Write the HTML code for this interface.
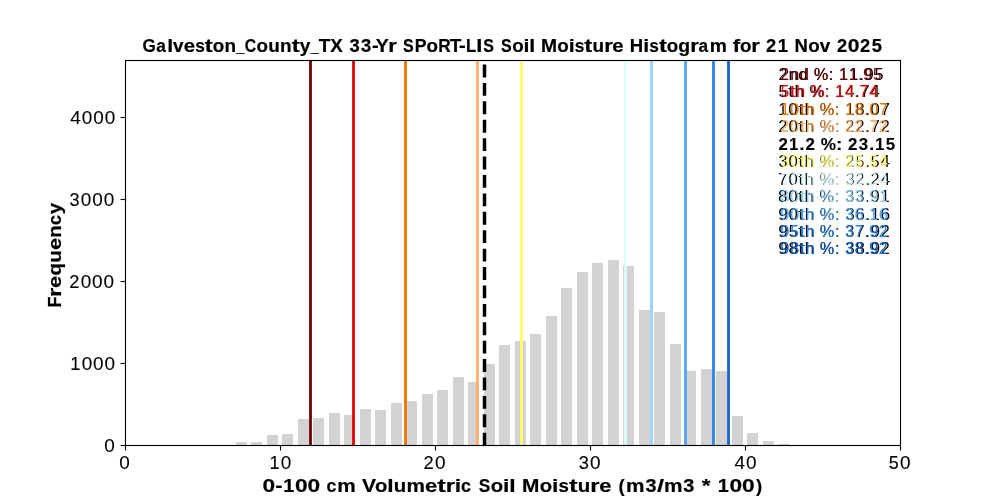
<!DOCTYPE html><html><head><meta charset="utf-8"><title>Soil Moisture Histogram</title><style>html,body{margin:0;padding:0;background:#fff;width:1000px;height:500px;overflow:hidden}svg{display:block;will-change:transform}text{font-family:"Liberation Sans",sans-serif;font-kerning:none}</style></head><body><svg width="1000" height="500" viewBox="0 0 1000 500"><rect x="0" y="0" width="1000" height="500" fill="#fff"/><g fill="#d3d3d3"><rect x="236" y="442" width="11" height="4"/><rect x="251" y="442" width="11" height="4"/><rect x="267" y="435" width="11" height="11"/><rect x="282" y="434" width="11" height="12"/><rect x="298" y="419" width="11" height="27"/><rect x="313" y="418" width="11" height="28"/><rect x="329" y="413" width="11" height="33"/><rect x="344" y="415" width="11" height="31"/><rect x="360" y="409" width="11" height="37"/><rect x="375" y="410" width="11" height="36"/><rect x="391" y="403" width="11" height="43"/><rect x="406" y="401" width="11" height="45"/><rect x="422" y="394" width="11" height="52"/><rect x="437" y="390" width="11" height="56"/><rect x="453" y="377" width="11" height="69"/><rect x="468" y="382" width="11" height="64"/><rect x="484" y="364" width="11" height="82"/><rect x="499" y="345" width="11" height="101"/><rect x="515" y="341" width="11" height="105"/><rect x="530" y="334" width="11" height="112"/><rect x="546" y="316" width="11" height="130"/><rect x="561" y="288" width="11" height="158"/><rect x="577" y="272" width="11" height="174"/><rect x="592" y="263" width="11" height="183"/><rect x="608" y="260" width="11" height="186"/><rect x="623" y="266" width="11" height="180"/><rect x="639" y="310" width="11" height="136"/><rect x="654" y="312" width="11" height="134"/><rect x="670" y="344" width="11" height="102"/><rect x="685" y="371" width="11" height="75"/><rect x="701" y="369" width="11" height="77"/><rect x="716" y="371" width="11" height="75"/><rect x="732" y="416" width="11" height="30"/><rect x="747" y="433" width="11" height="13"/><rect x="763" y="441" width="11" height="5"/><rect x="778" y="444" width="11" height="2"/></g><line x1="310.5" y1="60.5" x2="310.5" y2="445.5" stroke="#6e0000" stroke-width="2.78"/><line x1="353.5" y1="60.5" x2="353.5" y2="445.5" stroke="#e80000" stroke-width="2.78"/><line x1="405.5" y1="60.5" x2="405.5" y2="445.5" stroke="#e87500" stroke-width="2.78"/><line x1="477.5" y1="60.5" x2="477.5" y2="445.5" stroke="#fdb064" stroke-width="2.78"/><line x1="521.5" y1="60.5" x2="521.5" y2="445.5" stroke="#fffe64" stroke-width="2.78"/><line x1="625.5" y1="60.5" x2="625.5" y2="445.5" stroke="#dcfdfd" stroke-width="2.78"/><line x1="651.5" y1="60.5" x2="651.5" y2="445.5" stroke="#96d2fa" stroke-width="2.78"/><line x1="685.5" y1="60.5" x2="685.5" y2="445.5" stroke="#50a5f5" stroke-width="2.78"/><line x1="713.5" y1="60.5" x2="713.5" y2="445.5" stroke="#2882f0" stroke-width="2.78"/><line x1="728.5" y1="60.5" x2="728.5" y2="445.5" stroke="#1464d2" stroke-width="2.78"/><line x1="484.5" y1="445.6" x2="484.5" y2="60.5" stroke="#000" stroke-width="3.47" stroke-dasharray="12.85 5.56"/><g stroke="#000" stroke-width="1.11" fill="none"><rect x="125.5" y="60.5" width="775" height="385"/><line x1="125.5" y1="445.5" x2="125.5" y2="450.5"/><line x1="280.5" y1="445.5" x2="280.5" y2="450.5"/><line x1="435.5" y1="445.5" x2="435.5" y2="450.5"/><line x1="590.5" y1="445.5" x2="590.5" y2="450.5"/><line x1="745.5" y1="445.5" x2="745.5" y2="450.5"/><line x1="900.5" y1="445.5" x2="900.5" y2="450.5"/><line x1="120.5" y1="445.5" x2="125.5" y2="445.5"/><line x1="120.5" y1="363.5" x2="125.5" y2="363.5"/><line x1="120.5" y1="281.5" x2="125.5" y2="281.5"/><line x1="120.5" y1="199.5" x2="125.5" y2="199.5"/><line x1="120.5" y1="117.5" x2="125.5" y2="117.5"/></g><g font-size="17.66" font-weight="bold" fill="#000" stroke="#000" stroke-width="0.2"><text transform="translate(142.48 51.65) scale(0.974 1)">G</text><text transform="translate(156.20 51.65) scale(0.978 1)">a</text><text transform="translate(167.14 51.65) scale(1.208 1)">l</text><text transform="translate(173.10 51.65) scale(1.070 1)">v</text><text transform="translate(183.67 51.65) scale(1.147 1)">e</text><text transform="translate(195.30 51.65) scale(0.974 1)">s</text><text transform="translate(204.87 51.65) scale(1.350 1)">t</text><text transform="translate(212.84 51.65) scale(1.065 1)">o</text><text transform="translate(224.44 51.65) scale(1.075 1)">n</text><text transform="translate(236.27 51.65) scale(0.821 1)">_</text><text transform="translate(244.63 51.65) scale(0.894 1)">C</text><text transform="translate(256.61 51.65) scale(1.065 1)">o</text><text transform="translate(268.19 51.65) scale(1.075 1)">u</text><text transform="translate(280.05 51.65) scale(1.075 1)">n</text><text transform="translate(291.68 51.65) scale(1.350 1)">t</text><text transform="translate(299.75 51.65) scale(1.080 1)">y</text><text transform="translate(310.66 51.65) scale(0.821 1)">_</text><text transform="translate(318.71 51.65) scale(1.075 1)">T</text><text transform="translate(330.34 51.65) scale(1.063 1)">X</text><text transform="translate(349.48 51.65) scale(1.043 1)">3</text><text transform="translate(361.05 51.65) scale(1.043 1)">3</text><text transform="translate(372.02 51.65) scale(1.140 1)">-</text><text transform="translate(375.83 51.65) scale(1.106 1)">Y</text><text transform="translate(388.30 51.65) scale(1.245 1)">r</text><text transform="translate(403.07 51.65) scale(0.907 1)">S</text><text transform="translate(414.66 51.65) scale(1.000 1)">P</text><text transform="translate(426.47 51.65) scale(1.065 1)">o</text><text transform="translate(438.29 51.65) scale(0.978 1)">R</text><text transform="translate(449.85 51.65) scale(1.075 1)">T</text><text transform="translate(458.92 51.65) scale(1.140 1)">-</text><text transform="translate(466.11 51.65) scale(0.953 1)">L</text><text transform="translate(476.37 51.65) scale(1.235 1)">I</text><text transform="translate(483.22 51.65) scale(0.907 1)">S</text><text transform="translate(500.99 51.65) scale(0.907 1)">S</text><text transform="translate(512.20 51.65) scale(1.065 1)">o</text><text transform="translate(523.57 51.65) scale(1.208 1)">i</text><text transform="translate(529.26 51.65) scale(1.208 1)">l</text><text transform="translate(541.06 51.65) scale(1.095 1)">M</text><text transform="translate(557.35 51.65) scale(1.065 1)">o</text><text transform="translate(568.72 51.65) scale(1.208 1)">i</text><text transform="translate(574.76 51.65) scale(0.974 1)">s</text><text transform="translate(584.34 51.65) scale(1.350 1)">t</text><text transform="translate(592.46 51.65) scale(1.075 1)">u</text><text transform="translate(604.13 51.65) scale(1.245 1)">r</text><text transform="translate(612.29 51.65) scale(1.147 1)">e</text><text transform="translate(629.72 51.65) scale(1.048 1)">H</text><text transform="translate(643.27 51.65) scale(1.208 1)">i</text><text transform="translate(649.31 51.65) scale(0.974 1)">s</text><text transform="translate(658.89 51.65) scale(1.350 1)">t</text><text transform="translate(666.86 51.65) scale(1.065 1)">o</text><text transform="translate(678.26 51.65) scale(1.101 1)">g</text><text transform="translate(690.17 51.65) scale(1.245 1)">r</text><text transform="translate(698.61 51.65) scale(0.978 1)">a</text><text transform="translate(709.75 51.65) scale(1.091 1)">m</text><text transform="translate(732.68 51.65) scale(1.263 1)">f</text><text transform="translate(739.95 51.65) scale(1.065 1)">o</text><text transform="translate(751.35 51.65) scale(1.245 1)">r</text><text transform="translate(766.06 51.65) scale(1.037 1)">2</text><text transform="translate(777.67 51.65) scale(1.042 1)">1</text><text transform="translate(794.59 51.65) scale(1.048 1)">N</text><text transform="translate(808.19 51.65) scale(1.065 1)">o</text><text transform="translate(819.83 51.65) scale(1.070 1)">v</text><text transform="translate(836.95 51.65) scale(1.037 1)">2</text><text transform="translate(847.80 51.65) scale(1.190 1)">0</text><text transform="translate(860.08 51.65) scale(1.037 1)">2</text><text transform="translate(871.70 51.65) scale(1.039 1)">5</text></g><g font-size="19.13" font-weight="bold" fill="#000" stroke="#000" stroke-width="0.2"><text transform="translate(262.50 491.70) scale(1.187 1)">0</text><text transform="translate(275.18 491.70) scale(1.139 1)">-</text><text transform="translate(283.30 491.70) scale(1.040 1)">1</text><text transform="translate(295.01 491.70) scale(1.187 1)">0</text><text transform="translate(307.54 491.70) scale(1.187 1)">0</text><text transform="translate(326.44 491.70) scale(0.931 1)">c</text><text transform="translate(337.16 491.70) scale(1.088 1)">m</text><text transform="translate(361.99 491.70) scale(1.101 1)">V</text><text transform="translate(374.97 491.70) scale(1.061 1)">o</text><text transform="translate(387.25 491.70) scale(1.204 1)">l</text><text transform="translate(393.67 491.70) scale(1.071 1)">u</text><text transform="translate(406.46 491.70) scale(1.088 1)">m</text><text transform="translate(425.02 491.70) scale(1.144 1)">e</text><text transform="translate(437.22 491.70) scale(1.350 1)">t</text><text transform="translate(445.85 491.70) scale(1.241 1)">r</text><text transform="translate(454.68 491.70) scale(1.204 1)">i</text><text transform="translate(461.03 491.70) scale(0.931 1)">c</text><text transform="translate(478.67 491.70) scale(0.903 1)">S</text><text transform="translate(490.84 491.70) scale(1.061 1)">o</text><text transform="translate(503.12 491.70) scale(1.204 1)">i</text><text transform="translate(509.29 491.70) scale(1.204 1)">l</text><text transform="translate(522.08 491.70) scale(1.092 1)">M</text><text transform="translate(539.72 491.70) scale(1.061 1)">o</text><text transform="translate(552.00 491.70) scale(1.204 1)">i</text><text transform="translate(558.54 491.70) scale(0.973 1)">s</text><text transform="translate(568.90 491.70) scale(1.350 1)">t</text><text transform="translate(577.74 491.70) scale(1.071 1)">u</text><text transform="translate(590.35 491.70) scale(1.241 1)">r</text><text transform="translate(599.21 491.70) scale(1.144 1)">e</text><text transform="translate(618.38 491.70) scale(0.971 1)">(</text><text transform="translate(626.11 491.70) scale(1.088 1)">m</text><text transform="translate(645.49 491.70) scale(1.039 1)">3</text><text transform="translate(657.01 491.70) scale(1.329 1)">/</text><text transform="translate(663.96 491.70) scale(1.088 1)">m</text><text transform="translate(683.34 491.70) scale(1.039 1)">3</text><text transform="translate(701.69 491.70) scale(1.180 1)">*</text><text transform="translate(717.84 491.70) scale(1.040 1)">1</text><text transform="translate(729.56 491.70) scale(1.187 1)">0</text><text transform="translate(742.08 491.70) scale(1.187 1)">0</text><text transform="translate(756.06 491.70) scale(0.971 1)">)</text></g><g font-size="19.13" font-weight="bold" fill="#000" stroke="#000" stroke-width="0.2"><text transform="translate(60.56 307.55) rotate(-90) scale(0.940 1)">F</text><text transform="translate(60.56 296.88) rotate(-90) scale(1.241 1)">r</text><text transform="translate(60.56 288.02) rotate(-90) scale(1.144 1)">e</text><text transform="translate(60.56 275.80) rotate(-90) scale(1.099 1)">q</text><text transform="translate(60.56 262.71) rotate(-90) scale(1.071 1)">u</text><text transform="translate(60.56 250.12) rotate(-90) scale(1.144 1)">e</text><text transform="translate(60.56 237.67) rotate(-90) scale(1.071 1)">n</text><text transform="translate(60.56 224.94) rotate(-90) scale(0.931 1)">c</text><text transform="translate(60.56 214.28) rotate(-90) scale(1.078 1)">y</text></g><g font-size="19.13" fill="#000" stroke="#000" stroke-width="0.1"><text transform="translate(119.23 468.67) scale(0.991 1)">0</text></g><g font-size="19.13" fill="#000" stroke="#000" stroke-width="0.1"><text transform="translate(269.55 468.73) scale(0.949 1)">1</text><text transform="translate(280.87 468.73) scale(0.991 1)">0</text></g><g font-size="19.13" fill="#000" stroke="#000" stroke-width="0.1"><text transform="translate(423.38 468.73) scale(0.957 1)">2</text><text transform="translate(434.89 468.73) scale(0.991 1)">0</text></g><g font-size="19.13" fill="#000" stroke="#000" stroke-width="0.1"><text transform="translate(578.65 468.55) scale(0.953 1)">3</text><text transform="translate(589.89 468.55) scale(0.991 1)">0</text></g><g font-size="19.13" fill="#000" stroke="#000" stroke-width="0.1"><text transform="translate(734.51 468.70) scale(0.994 1)">4</text><text transform="translate(745.98 468.70) scale(0.991 1)">0</text></g><g font-size="19.13" fill="#000" stroke="#000" stroke-width="0.1"><text transform="translate(888.80 468.52) scale(0.936 1)">5</text><text transform="translate(900.05 468.52) scale(0.991 1)">0</text></g><g font-size="19.13" fill="#000" stroke="#000" stroke-width="0.1"><text transform="translate(104.23 451.67) scale(0.991 1)">0</text></g><g font-size="19.13" fill="#000" stroke="#000" stroke-width="0.1"><text transform="translate(70.32 369.61) scale(0.949 1)">1</text><text transform="translate(81.64 369.61) scale(0.991 1)">0</text><text transform="translate(93.09 369.61) scale(0.991 1)">0</text><text transform="translate(104.55 369.61) scale(0.991 1)">0</text></g><g font-size="19.13" fill="#000" stroke="#000" stroke-width="0.1"><text transform="translate(69.15 287.71) scale(0.957 1)">2</text><text transform="translate(80.66 287.71) scale(0.991 1)">0</text><text transform="translate(92.11 287.71) scale(0.991 1)">0</text><text transform="translate(103.57 287.71) scale(0.991 1)">0</text></g><g font-size="19.13" fill="#000" stroke="#000" stroke-width="0.1"><text transform="translate(69.61 205.73) scale(0.953 1)">3</text><text transform="translate(80.85 205.73) scale(0.991 1)">0</text><text transform="translate(92.30 205.73) scale(0.991 1)">0</text><text transform="translate(103.75 205.73) scale(0.991 1)">0</text></g><g font-size="19.13" fill="#000" stroke="#000" stroke-width="0.1"><text transform="translate(70.32 123.68) scale(0.994 1)">4</text><text transform="translate(81.80 123.68) scale(0.991 1)">0</text><text transform="translate(93.25 123.68) scale(0.991 1)">0</text><text transform="translate(104.70 123.68) scale(0.991 1)">0</text></g><g font-size="16.78" fill="#000"><text transform="translate(778.42 79.73) scale(0.963 1)">2</text><text transform="translate(788.46 79.73) scale(1.022 1)">n</text><text transform="translate(798.37 79.73) scale(1.029 1)">d</text><text transform="translate(813.64 79.73) scale(0.974 1)">%</text><text transform="translate(828.74 79.73) scale(1.020 1)">:</text><text transform="translate(839.35 79.73) scale(0.955 1)">1</text><text transform="translate(849.45 79.73) scale(0.955 1)">1</text><text transform="translate(859.16 79.73) scale(1.020 1)">.</text><text transform="translate(864.26 79.73) scale(1.032 1)">9</text><text transform="translate(874.77 79.73) scale(0.943 1)">5</text></g><g font-size="16.19" fill="#6e0000"><text transform="translate(780.49 79.54) scale(0.960 1)">2</text><text transform="translate(790.14 79.54) scale(1.021 1)">n</text><text transform="translate(799.66 79.54) scale(1.028 1)">d</text><text transform="translate(814.33 79.54) scale(0.970 1)">%</text><text transform="translate(828.82 79.54) scale(1.020 1)">:</text><text transform="translate(839.03 79.54) scale(0.953 1)">1</text><text transform="translate(848.73 79.54) scale(0.953 1)">1</text><text transform="translate(858.05 79.54) scale(1.020 1)">.</text><text transform="translate(862.96 79.54) scale(1.029 1)">9</text><text transform="translate(873.05 79.54) scale(0.941 1)">5</text></g><g font-size="16.78" fill="#000"><text transform="translate(778.44 97.03) scale(0.943 1)">5</text><text transform="translate(788.04 97.03) scale(1.267 1)">t</text><text transform="translate(794.41 97.03) scale(1.029 1)">h</text><text transform="translate(809.57 97.03) scale(0.974 1)">%</text><text transform="translate(824.67 97.03) scale(1.020 1)">:</text><text transform="translate(835.27 97.03) scale(0.955 1)">1</text><text transform="translate(845.24 97.03) scale(0.998 1)">4</text><text transform="translate(855.09 97.03) scale(1.020 1)">.</text><text transform="translate(860.45 97.03) scale(0.977 1)">7</text><text transform="translate(870.49 97.03) scale(0.998 1)">4</text></g><g font-size="16.19" fill="#e80000"><text transform="translate(780.72 97.13) scale(0.941 1)">5</text><text transform="translate(789.96 97.13) scale(1.266 1)">t</text><text transform="translate(796.07 97.13) scale(1.028 1)">h</text><text transform="translate(810.63 97.13) scale(0.970 1)">%</text><text transform="translate(825.12 97.13) scale(1.020 1)">:</text><text transform="translate(835.33 97.13) scale(0.953 1)">1</text><text transform="translate(844.90 97.13) scale(0.996 1)">4</text><text transform="translate(854.35 97.13) scale(1.020 1)">.</text><text transform="translate(859.53 97.13) scale(0.974 1)">7</text><text transform="translate(869.15 97.13) scale(0.996 1)">4</text></g><g font-size="16.78" fill="#000"><text transform="translate(778.37 114.51) scale(0.955 1)">1</text><text transform="translate(788.35 114.51) scale(1.000 1)">0</text><text transform="translate(798.15 114.51) scale(1.267 1)">t</text><text transform="translate(804.51 114.51) scale(1.029 1)">h</text><text transform="translate(819.67 114.51) scale(0.974 1)">%</text><text transform="translate(834.77 114.51) scale(1.020 1)">:</text><text transform="translate(845.38 114.51) scale(0.955 1)">1</text><text transform="translate(855.30 114.51) scale(1.010 1)">8</text><text transform="translate(865.19 114.51) scale(1.020 1)">.</text><text transform="translate(870.50 114.51) scale(1.000 1)">0</text><text transform="translate(880.66 114.51) scale(0.977 1)">7</text></g><g font-size="16.19" fill="#e87500"><text transform="translate(780.66 114.58) scale(0.953 1)">1</text><text transform="translate(790.23 114.58) scale(0.996 1)">0</text><text transform="translate(799.66 114.58) scale(1.266 1)">t</text><text transform="translate(805.77 114.58) scale(1.028 1)">h</text><text transform="translate(820.33 114.58) scale(0.970 1)">%</text><text transform="translate(834.82 114.58) scale(1.020 1)">:</text><text transform="translate(845.03 114.58) scale(0.953 1)">1</text><text transform="translate(854.56 114.58) scale(1.008 1)">8</text><text transform="translate(864.05 114.58) scale(1.020 1)">.</text><text transform="translate(869.15 114.58) scale(0.996 1)">0</text><text transform="translate(878.94 114.58) scale(0.974 1)">7</text></g><g font-size="16.78" fill="#000"><text transform="translate(778.33 131.64) scale(0.963 1)">2</text><text transform="translate(788.48 131.64) scale(1.000 1)">0</text><text transform="translate(798.28 131.64) scale(1.267 1)">t</text><text transform="translate(804.64 131.64) scale(1.029 1)">h</text><text transform="translate(819.80 131.64) scale(0.974 1)">%</text><text transform="translate(834.90 131.64) scale(1.020 1)">:</text><text transform="translate(845.34 131.64) scale(0.963 1)">2</text><text transform="translate(855.44 131.64) scale(0.963 1)">2</text><text transform="translate(865.33 131.64) scale(1.020 1)">.</text><text transform="translate(870.69 131.64) scale(0.977 1)">7</text><text transform="translate(880.69 131.64) scale(0.963 1)">2</text></g><g font-size="16.19" fill="#fdb064"><text transform="translate(780.49 131.66) scale(0.960 1)">2</text><text transform="translate(790.23 131.66) scale(0.996 1)">0</text><text transform="translate(799.66 131.66) scale(1.266 1)">t</text><text transform="translate(805.77 131.66) scale(1.028 1)">h</text><text transform="translate(820.33 131.66) scale(0.970 1)">%</text><text transform="translate(834.82 131.66) scale(1.020 1)">:</text><text transform="translate(844.87 131.66) scale(0.960 1)">2</text><text transform="translate(854.57 131.66) scale(0.960 1)">2</text><text transform="translate(864.05 131.66) scale(1.020 1)">.</text><text transform="translate(869.23 131.66) scale(0.974 1)">7</text><text transform="translate(878.82 131.66) scale(0.960 1)">2</text></g><g font-size="16.19" font-weight="bold" fill="#000" stroke="#000" stroke-width="0.1"><text transform="translate(778.43 149.61) scale(1.042 1)">2</text><text transform="translate(789.07 149.61) scale(1.044 1)">1</text><text transform="translate(799.28 149.61) scale(1.179 1)">.</text><text transform="translate(805.45 149.61) scale(1.042 1)">2</text><text transform="translate(820.81 149.61) scale(1.059 1)">%</text><text transform="translate(835.88 149.61) scale(1.186 1)">:</text><text transform="translate(848.06 149.61) scale(1.042 1)">2</text><text transform="translate(858.67 149.61) scale(1.045 1)">3</text><text transform="translate(868.90 149.61) scale(1.179 1)">.</text><text transform="translate(875.10 149.61) scale(1.044 1)">1</text><text transform="translate(885.72 149.61) scale(1.043 1)">5</text></g><g font-size="16.78" fill="#000"><text transform="translate(778.48 167.03) scale(0.959 1)">3</text><text transform="translate(788.38 167.03) scale(1.000 1)">0</text><text transform="translate(798.18 167.03) scale(1.267 1)">t</text><text transform="translate(804.55 167.03) scale(1.029 1)">h</text><text transform="translate(819.70 167.03) scale(0.974 1)">%</text><text transform="translate(834.80 167.03) scale(1.020 1)">:</text><text transform="translate(845.24 167.03) scale(0.963 1)">2</text><text transform="translate(855.59 167.03) scale(0.943 1)">5</text><text transform="translate(865.23 167.03) scale(1.020 1)">.</text><text transform="translate(870.73 167.03) scale(0.943 1)">5</text><text transform="translate(880.62 167.03) scale(0.998 1)">4</text></g><g font-size="16.19" fill="#fffe64"><text transform="translate(780.72 166.84) scale(0.957 1)">3</text><text transform="translate(790.23 166.84) scale(0.996 1)">0</text><text transform="translate(799.66 166.84) scale(1.266 1)">t</text><text transform="translate(805.77 166.84) scale(1.028 1)">h</text><text transform="translate(820.33 166.84) scale(0.970 1)">%</text><text transform="translate(834.82 166.84) scale(1.020 1)">:</text><text transform="translate(844.87 166.84) scale(0.960 1)">2</text><text transform="translate(854.79 166.84) scale(0.941 1)">5</text><text transform="translate(864.05 166.84) scale(1.020 1)">.</text><text transform="translate(869.34 166.84) scale(0.941 1)">5</text><text transform="translate(878.85 166.84) scale(0.996 1)">4</text></g><g font-size="16.78" fill="#000"><text transform="translate(778.34 184.72) scale(0.977 1)">7</text><text transform="translate(788.39 184.72) scale(1.000 1)">0</text><text transform="translate(798.19 184.72) scale(1.267 1)">t</text><text transform="translate(804.56 184.72) scale(1.029 1)">h</text><text transform="translate(819.72 184.72) scale(0.974 1)">%</text><text transform="translate(834.82 184.72) scale(1.020 1)">:</text><text transform="translate(845.50 184.72) scale(0.959 1)">3</text><text transform="translate(855.36 184.72) scale(0.963 1)">2</text><text transform="translate(865.24 184.72) scale(1.020 1)">.</text><text transform="translate(870.50 184.72) scale(0.963 1)">2</text><text transform="translate(880.64 184.72) scale(0.998 1)">4</text></g><g font-size="16.19" fill="#dcfdfd"><text transform="translate(780.61 184.53) scale(0.974 1)">7</text><text transform="translate(790.23 184.53) scale(0.996 1)">0</text><text transform="translate(799.66 184.53) scale(1.266 1)">t</text><text transform="translate(805.77 184.53) scale(1.028 1)">h</text><text transform="translate(820.33 184.53) scale(0.970 1)">%</text><text transform="translate(834.82 184.53) scale(1.020 1)">:</text><text transform="translate(845.10 184.53) scale(0.957 1)">3</text><text transform="translate(854.57 184.53) scale(0.960 1)">2</text><text transform="translate(864.05 184.53) scale(1.020 1)">.</text><text transform="translate(869.12 184.53) scale(0.960 1)">2</text><text transform="translate(878.85 184.53) scale(0.996 1)">4</text></g><g font-size="16.78" fill="#000"><text transform="translate(778.11 201.84) scale(1.010 1)">8</text><text transform="translate(788.26 201.84) scale(1.000 1)">0</text><text transform="translate(798.06 201.84) scale(1.267 1)">t</text><text transform="translate(804.43 201.84) scale(1.029 1)">h</text><text transform="translate(819.59 201.84) scale(0.974 1)">%</text><text transform="translate(834.69 201.84) scale(1.020 1)">:</text><text transform="translate(845.37 201.84) scale(0.959 1)">3</text><text transform="translate(855.47 201.84) scale(0.959 1)">3</text><text transform="translate(865.11 201.84) scale(1.020 1)">.</text><text transform="translate(870.21 201.84) scale(1.032 1)">9</text><text transform="translate(880.64 201.84) scale(0.955 1)">1</text></g><g font-size="16.19" fill="#96d2fa"><text transform="translate(780.49 201.66) scale(1.008 1)">8</text><text transform="translate(790.23 201.66) scale(0.996 1)">0</text><text transform="translate(799.66 201.66) scale(1.266 1)">t</text><text transform="translate(805.77 201.66) scale(1.028 1)">h</text><text transform="translate(820.33 201.66) scale(0.970 1)">%</text><text transform="translate(834.82 201.66) scale(1.020 1)">:</text><text transform="translate(845.10 201.66) scale(0.957 1)">3</text><text transform="translate(854.80 201.66) scale(0.957 1)">3</text><text transform="translate(864.05 201.66) scale(1.020 1)">.</text><text transform="translate(868.96 201.66) scale(1.029 1)">9</text><text transform="translate(878.99 201.66) scale(0.953 1)">1</text></g><g font-size="16.78" fill="#000"><text transform="translate(778.22 220.09) scale(1.032 1)">9</text><text transform="translate(788.53 220.09) scale(1.000 1)">0</text><text transform="translate(798.33 220.09) scale(1.267 1)">t</text><text transform="translate(804.70 220.09) scale(1.029 1)">h</text><text transform="translate(819.85 220.09) scale(0.974 1)">%</text><text transform="translate(834.95 220.09) scale(1.020 1)">:</text><text transform="translate(845.64 220.09) scale(0.959 1)">3</text><text transform="translate(855.37 220.09) scale(1.034 1)">6</text><text transform="translate(865.38 220.09) scale(1.020 1)">.</text><text transform="translate(870.81 220.09) scale(0.955 1)">1</text><text transform="translate(880.62 220.09) scale(1.034 1)">6</text></g><g font-size="16.19" fill="#50a5f5"><text transform="translate(780.33 220.14) scale(1.029 1)">9</text><text transform="translate(790.23 220.14) scale(0.996 1)">0</text><text transform="translate(799.66 220.14) scale(1.266 1)">t</text><text transform="translate(805.77 220.14) scale(1.028 1)">h</text><text transform="translate(820.33 220.14) scale(0.970 1)">%</text><text transform="translate(834.82 220.14) scale(1.020 1)">:</text><text transform="translate(845.10 220.14) scale(0.957 1)">3</text><text transform="translate(854.45 220.14) scale(1.032 1)">6</text><text transform="translate(864.05 220.14) scale(1.020 1)">.</text><text transform="translate(869.29 220.14) scale(0.953 1)">1</text><text transform="translate(878.70 220.14) scale(1.032 1)">6</text></g><g font-size="16.78" fill="#000"><text transform="translate(778.15 236.57) scale(1.032 1)">9</text><text transform="translate(788.66 236.57) scale(0.943 1)">5</text><text transform="translate(798.27 236.57) scale(1.267 1)">t</text><text transform="translate(804.63 236.57) scale(1.029 1)">h</text><text transform="translate(819.79 236.57) scale(0.974 1)">%</text><text transform="translate(834.89 236.57) scale(1.020 1)">:</text><text transform="translate(845.58 236.57) scale(0.959 1)">3</text><text transform="translate(855.53 236.57) scale(0.977 1)">7</text><text transform="translate(865.31 236.57) scale(1.020 1)">.</text><text transform="translate(870.41 236.57) scale(1.032 1)">9</text><text transform="translate(880.68 236.57) scale(0.963 1)">2</text></g><g font-size="16.19" fill="#2882f0"><text transform="translate(780.33 236.64) scale(1.029 1)">9</text><text transform="translate(790.42 236.64) scale(0.941 1)">5</text><text transform="translate(799.66 236.64) scale(1.266 1)">t</text><text transform="translate(805.77 236.64) scale(1.028 1)">h</text><text transform="translate(820.33 236.64) scale(0.970 1)">%</text><text transform="translate(834.82 236.64) scale(1.020 1)">:</text><text transform="translate(845.10 236.64) scale(0.957 1)">3</text><text transform="translate(854.68 236.64) scale(0.974 1)">7</text><text transform="translate(864.05 236.64) scale(1.020 1)">.</text><text transform="translate(868.96 236.64) scale(1.029 1)">9</text><text transform="translate(878.82 236.64) scale(0.960 1)">2</text></g><g font-size="16.78" fill="#000"><text transform="translate(778.23 254.14) scale(1.032 1)">9</text><text transform="translate(788.49 254.14) scale(1.010 1)">8</text><text transform="translate(798.34 254.14) scale(1.267 1)">t</text><text transform="translate(804.71 254.14) scale(1.029 1)">h</text><text transform="translate(819.86 254.14) scale(0.974 1)">%</text><text transform="translate(834.97 254.14) scale(1.020 1)">:</text><text transform="translate(845.65 254.14) scale(0.959 1)">3</text><text transform="translate(855.50 254.14) scale(1.010 1)">8</text><text transform="translate(865.39 254.14) scale(1.020 1)">.</text><text transform="translate(870.49 254.14) scale(1.032 1)">9</text><text transform="translate(880.75 254.14) scale(0.963 1)">2</text></g><g font-size="16.19" fill="#1464d2"><text transform="translate(780.33 254.17) scale(1.029 1)">9</text><text transform="translate(790.19 254.17) scale(1.008 1)">8</text><text transform="translate(799.66 254.17) scale(1.266 1)">t</text><text transform="translate(805.77 254.17) scale(1.028 1)">h</text><text transform="translate(820.33 254.17) scale(0.970 1)">%</text><text transform="translate(834.82 254.17) scale(1.020 1)">:</text><text transform="translate(845.10 254.17) scale(0.957 1)">3</text><text transform="translate(854.56 254.17) scale(1.008 1)">8</text><text transform="translate(864.05 254.17) scale(1.020 1)">.</text><text transform="translate(868.96 254.17) scale(1.029 1)">9</text><text transform="translate(878.82 254.17) scale(0.960 1)">2</text></g></svg></body></html>
